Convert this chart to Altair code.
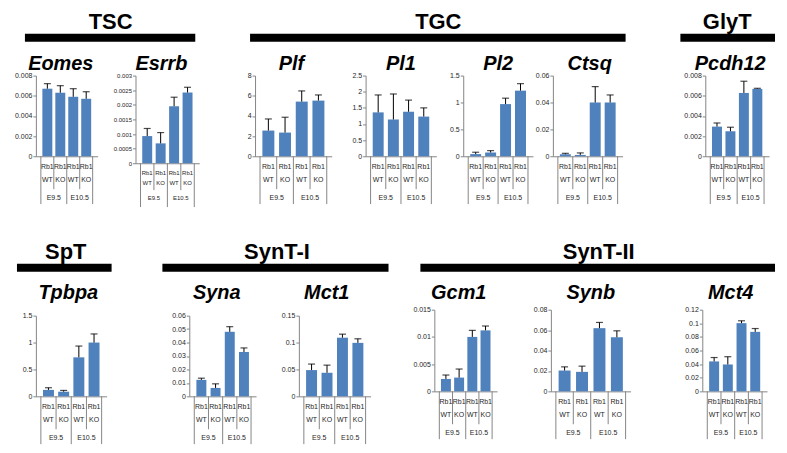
import altair as alt
import pandas as pd

# ---------------- data ----------------
STRAIN = ["Rb1", "Rb1", "Rb1", "Rb1"]
GENOTYPE = ["WT", "KO", "WT", "KO"]
STAGE = ["E9.5", "E10.5"]
GROUPS_ROW1 = ["TSC", "TGC", "GlyT"]
GROUPS_ROW2 = ["SpT", "SynT-I", "SynT-II"]

EOMES_MEAN = [0.0067, 0.0063, 0.0059, 0.0057]
EOMES_ERR = [0.0005, 0.0007, 0.0008, 0.0007]
EOMES_TICKS = [0, 0.002, 0.004, 0.006, 0.008]

ESRRB_MEAN = [0.00093, 0.00068, 0.00195, 0.00242]
ESRRB_ERR = [0.00026, 0.00037, 0.00031, 0.00018]
ESRRB_TICKS = [0, 0.0005, 0.001, 0.0015, 0.002, 0.0025, 0.003]

PLF_MEAN = [2.55, 2.35, 5.42, 5.52]
PLF_ERR = [1.15, 1.52, 1.06, 0.56]
PLF_TICKS = [0, 2, 4, 6, 8]

PL1_MEAN = [1.36, 1.14, 1.38, 1.23]
PL1_ERR = [0.54, 0.79, 0.36, 0.27]
PL1_TICKS = [0, 0.5, 1, 1.5, 2, 2.5]

PL2_MEAN = [0.04, 0.07, 0.97, 1.22]
PL2_ERR = [0.035, 0.035, 0.11, 0.13]
PL2_TICKS = [0, 0.5, 1, 1.5]

CTSQ_MEAN = [0.0015, 0.001, 0.040, 0.040]
CTSQ_ERR = [0.0007, 0.0015, 0.0118, 0.0056]
CTSQ_TICKS = [0, 0.02, 0.04, 0.06]

PCDH12_MEAN = [0.00294, 0.00248, 0.00628, 0.00668]
PCDH12_ERR = [0.00036, 0.0004, 0.00116, 0.00006]
PCDH12_TICKS = [0, 0.002, 0.004, 0.006, 0.008]

TPBPA_MEAN = [0.12, 0.086, 0.725, 1.0]
TPBPA_ERR = [0.04, 0.024, 0.21, 0.16]
TPBPA_TICKS = [0, 0.5, 1, 1.5]

SYNA_MEAN = [0.01225, 0.00625, 0.048, 0.033]
SYNA_ERR = [0.00125, 0.00305, 0.0038, 0.003]
SYNA_TICKS = [0, 0.01, 0.02, 0.03, 0.04, 0.05, 0.06]

MCT1_MEAN = [0.0488, 0.0438, 0.109, 0.0994]
MCT1_ERR = [0.0112, 0.0142, 0.0066, 0.0076]
MCT1_TICKS = [0, 0.05, 0.1, 0.15]

GCM1_MEAN = [0.00228, 0.00253, 0.0100, 0.0112]
GCM1_ERR = [0.00072, 0.00157, 0.0012, 0.0008]
GCM1_TICKS = [0, 0.005, 0.01, 0.015]

SYNB_MEAN = [0.0204, 0.0191, 0.0619, 0.053]
SYNB_ERR = [0.0036, 0.0056, 0.0056, 0.0063]
SYNB_TICKS = [0, 0.02, 0.04, 0.06, 0.08]

MCT4_MEAN = [0.044, 0.0395, 0.1002, 0.0874]
MCT4_ERR = [0.0057, 0.0114, 0.0035, 0.0049]
MCT4_TICKS = [0, 0.02, 0.04, 0.06, 0.08, 0.1, 0.12]

# ---------------- style ----------------
GRAY = "#868686"
BLUE = "#4F81BD"
TXT = "#262626"
FONT = "Liberation Sans"


def panel(gene, mean, err, ticks, x0, w, top, h, box, tdx, ty, small=False):
    box_l, box_r, box_t, box_b = box
    n = len(mean)
    df = pd.DataFrame({
        "pos": [i + 0.5 for i in range(n)],
        "value": mean,
        "upper": [m + e for m, e in zip(mean, err)],
        "strain": STRAIN,
        "geno": GENOTYPE,
    })
    short_df = pd.DataFrame({"pos": [1, 3]})
    long_df = pd.DataFrame({"pos": [0, 2, 4]})
    stage_df = pd.DataFrame({"pos": [1, 3], "stage": STAGE})
    fs = 6 if small else 7
    if small:
        r1, r2, s_end, r3, l_end = 10, 20, 27, 35, 44
    else:
        r1, r2, s_end, r3, l_end = 11, 24, 33, 42, 48
    xs = alt.Scale(domain=[0, n], nice=False, zero=False)
    ys = alt.Scale(domain=[0, ticks[-1]], nice=False)
    xaxis = alt.Axis(labels=False, ticks=False, grid=False, title=None,
                     domain=True, domainColor=GRAY, domainWidth=1)
    yaxis = alt.Axis(values=ticks, labelExpr="'' + datum.value", grid=False,
                     title=None, domainColor=GRAY, tickColor=GRAY, tickSize=3,
                     labelFontSize=fs, labelFont=FONT, labelColor=TXT,
                     labelPadding=1, labelOverlap=False, labelFlush=False,
                     labelBound=False)
    X = alt.X("pos:Q", scale=xs, axis=xaxis)
    Y = alt.Y("value:Q", scale=ys, axis=yaxis)
    YU = alt.Y("upper:Q", scale=ys, axis=yaxis)
    bw = round(w / n * 0.62)
    frame = alt.Chart(pd.DataFrame({"k": [0]})).mark_rect(opacity=0).encode(
        x=alt.value(box_l - x0), x2=alt.value(box_r - x0),
        y=alt.value(box_t - top), y2=alt.value(box_b - top))
    bars = alt.Chart(df).mark_bar(color=BLUE, size=bw, orient="vertical").encode(
        x=X, y=Y)
    ebar = alt.Chart(df).mark_rule(color="black", strokeWidth=1).encode(
        x=X, y=Y, y2="upper:Q")
    cap = alt.Chart(df).mark_tick(color="black", orient="horizontal", size=7,
                                  thickness=1.2).encode(x=X, y=YU)
    rs = alt.Chart(short_df).mark_rule(color=GRAY, strokeWidth=1).encode(
        x=X, y=alt.value(h), y2=alt.value(h + s_end))
    rl = alt.Chart(long_df).mark_rule(color=GRAY, strokeWidth=1).encode(
        x=X, y=alt.value(h), y2=alt.value(h + l_end))
    tstyle = dict(fontSize=fs, font=FONT, baseline="middle", fill=TXT, color=TXT)
    t1 = alt.Chart(df).mark_text(**tstyle).encode(
        x=X, y=alt.value(h + r1), text="strain:N")
    t2 = alt.Chart(df).mark_text(**tstyle).encode(
        x=X, y=alt.value(h + r2), text="geno:N")
    t3 = alt.Chart(stage_df).mark_text(**tstyle).encode(
        x=X, y=alt.value(h + r3), text="stage:N")
    title = alt.Chart(pd.DataFrame({"gene": [gene]})).mark_text(
        font=FONT, fontSize=20, fontWeight="bold", fontStyle="italic",
        baseline="alphabetic", align="center", fill="black", color="black").encode(
        x=alt.value(w / 2 + tdx), y=alt.value(ty), text="gene:N")
    return alt.layer(frame, bars, ebar, cap, rs, rl, t1, t2, t3, title).properties(
        width=w, height=h)


def header(name, x0, ht, hb, gl, gr, bar_l, bar_r, bar_y, text_x, text_y):
    d = pd.DataFrame({"name": [name]})
    frame = alt.Chart(d).mark_rect(opacity=0).encode(
        x=alt.value(gl - x0), x2=alt.value(gr - x0),
        y=alt.value(0), y2=alt.value(hb - ht))
    bar = alt.Chart(d).mark_rule(color="black", strokeWidth=8).encode(
        x=alt.value(bar_l - x0), x2=alt.value(bar_r - x0), y=alt.value(bar_y - ht))
    txt = alt.Chart(d).mark_text(font=FONT, fontSize=22, fontWeight="bold",
                                 baseline="alphabetic", align="center",
                                 fill="black", color="black").encode(
        x=alt.value(text_x - x0), y=alt.value(text_y - ht), text="name:N")
    return alt.layer(frame, bar, txt).properties(width=1, height=1)


def group(hdr, panels):
    return alt.vconcat(hdr, alt.hconcat(*panels, spacing=0), spacing=0)


# ---------------- row 1 ----------------
R1T, R1B = 45, 225
eomes = panel("Eomes", EOMES_MEAN, EOMES_ERR, EOMES_TICKS, 36, 62, 75, 81,
              (8, 105, R1T, R1B), -6, -6)
esrrb = panel("Esrrb", ESRRB_MEAN, ESRRB_ERR, ESRRB_TICKS, 136, 64, 75, 88,
              (105, 225, R1T, R1B), -6, -6, small=True)
plf = panel("Plf", PLF_MEAN, PLF_ERR, PLF_TICKS, 256, 77, 75, 81,
            (225, 342, R1T, R1B), -2, -6)
pl1 = panel("Pl1", PL1_MEAN, PL1_ERR, PL1_TICKS, 367, 71, 75, 81,
            (342, 446, R1T, R1B), 0, -6)
pl2 = panel("Pl2", PL2_MEAN, PL2_ERR, PL2_TICKS, 465, 70, 75, 81,
            (446, 536, R1T, R1B), 0, -6)
ctsq = panel("Ctsq", CTSQ_MEAN, CTSQ_ERR, CTSQ_TICKS, 555, 70, 75, 81,
             (536, 662, R1T, R1B), 2, -6)
pcdh12 = panel("Pcdh12", PCDH12_MEAN, PCDH12_ERR, PCDH12_TICKS, 708, 64, 75, 81,
               (662, 779, R1T, R1B), -7, -6)

h_tsc = header(GROUPS_ROW1[0], 36, 8, R1T, 8, 225, 25, 196, 37, 111, 28)
h_tgc = header(GROUPS_ROW1[1], 256, 8, R1T, 225, 662, 251, 628, 37, 440, 28)
h_glyt = header(GROUPS_ROW1[2], 708, 8, R1T, 662, 779, 683, 778, 37, 730, 28)

row1 = alt.hconcat(group(h_tsc, [eomes, esrrb]),
                   group(h_tgc, [plf, pl1, pl2, ctsq]),
                   group(h_glyt, [pcdh12]), spacing=0)

# ---------------- row 2 ----------------
R2HT, R2T, R2B = 225, 280, 444
tpbpa = panel("Tpbpa", TPBPA_MEAN, TPBPA_ERR, TPBPA_TICKS, 36, 71, 316, 81,
              (8, 140, R2T, R2B), -3, -17)
syna = panel("Syna", SYNA_MEAN, SYNA_ERR, SYNA_TICKS, 190, 67, 316, 81,
             (140, 265, R2T, R2B), -6, -17)
mct1 = panel("Mct1", MCT1_MEAN, MCT1_ERR, MCT1_TICKS, 300, 72, 316, 81,
             (265, 400, R2T, R2B), -8, -17)
gcm1 = panel("Gcm1", GCM1_MEAN, GCM1_ERR, GCM1_TICKS, 436, 63, 310, 82,
             (400, 520, R2T, R2B), -7, -11)
synb = panel("Synb", SYNB_MEAN, SYNB_ERR, SYNB_TICKS, 553, 80, 310, 82,
             (520, 660, R2T, R2B), 0, -11)
mct4 = panel("Mct4", MCT4_MEAN, MCT4_ERR, MCT4_TICKS, 705, 65, 310, 82,
             (660, 779, R2T, R2B), -4, -11)

h_spt = header(GROUPS_ROW2[0], 36, R2HT, R2T, 8, 140, 17, 112, 268, 66, 259)
h_syn1 = header(GROUPS_ROW2[1], 190, R2HT, R2T, 140, 400, 163, 390, 268, 278, 259)
h_syn2 = header(GROUPS_ROW2[2], 436, R2HT, R2T, 400, 779, 422, 778, 268, 601, 259)

row2 = alt.hconcat(group(h_spt, [tpbpa]),
                   group(h_syn1, [syna, mct1]),
                   group(h_syn2, [gcm1, synb, mct4]), spacing=0)

chart = alt.vconcat(row1, row2, spacing=0).properties(
    padding=0, background="white").configure_view(stroke=None)

chart.save("out.html", embed_options={"renderer": "svg", "actions": False})
